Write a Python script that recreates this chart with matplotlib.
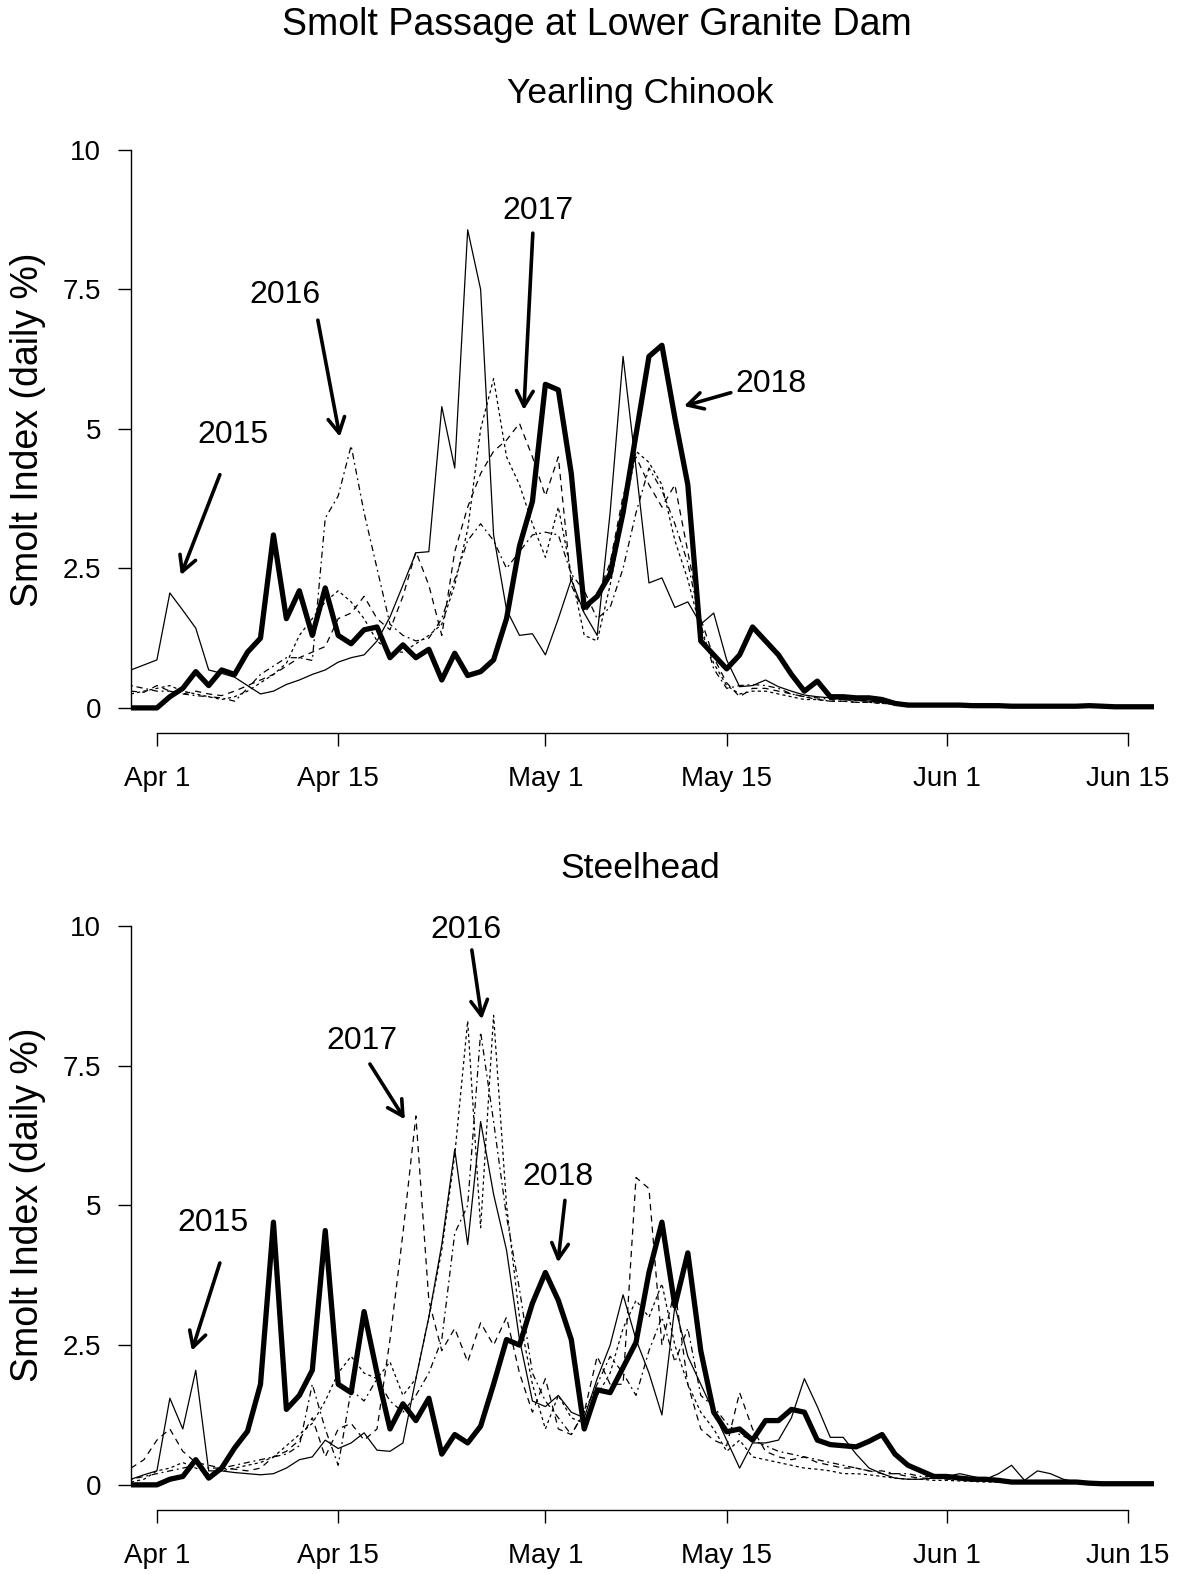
import numpy as np
import matplotlib
matplotlib.use("Agg")
import matplotlib.pyplot as plt

plt.rcParams["font.family"] = ["Liberation Sans", "DejaVu Sans"]

# day offsets from Apr 1 (Mar 30 .. Jun 16)
days = np.arange(-2, 78)
tick_days = [0, 14, 30, 44, 61, 75]
tick_labels = ["Apr 1", "Apr 15", "May 1", "May 15", "Jun 1", "Jun 15"]
y_ticks = [0, 2.5, 5, 7.5, 10]
y_labels = ["0", "2.5", "5", "7.5", "10"]

# ---- Yearling Chinook (daily %) ----
ck_2018 = [0, 0, 0, 0.2, 0.35, 0.65, 0.4, 0.68, 0.6, 1.0, 1.25, 3.1,
           1.6, 2.1, 1.3, 2.15, 1.3, 1.15, 1.4, 1.45, 0.9, 1.13,
           0.9, 1.05, 0.5, 0.98, 0.58, 0.65, 0.86, 1.6, 2.9, 3.7,
           5.8, 5.7, 4.2, 1.8, 2.0, 2.4, 3.5, 4.9, 6.3, 6.5,
           5.2, 4.0, 1.2, 0.95, 0.7, 0.95, 1.45, 1.2, 0.95, 0.6,
           0.3, 0.48, 0.2, 0.2, 0.18, 0.18, 0.15, 0.08, 0.05, 0.05,
           0.05, 0.05, 0.05, 0.04, 0.04, 0.04, 0.03, 0.03, 0.03, 0.03,
           0.03, 0.03, 0.04, 0.03, 0.02, 0.02, 0.02, 0.02]
ck_2015 = [0.68, 0.77, 0.86, 2.06, 1.75, 1.43, 0.68, 0.62, 0.55, 0.4, 0.25, 0.3,
           0.42, 0.5, 0.6, 0.68, 0.82, 0.9, 0.95, 1.2, 1.63, 2.2,
           2.78, 2.8, 5.4, 4.3, 8.57, 7.5, 3.1, 1.76, 1.3, 1.33,
           0.95, 1.6, 2.3, 1.7, 1.3, 3.5, 6.3, 4.3, 2.24, 2.33,
           1.8, 1.9, 1.5, 1.7, 0.86, 0.38, 0.4, 0.5, 0.38, 0.3,
           0.23, 0.2, 0.18, 0.15, 0.14, 0.12, 0.1, 0.1, 0.08, 0.07,
           0.06, 0.05, 0.05, 0.05, 0.04, 0.04, 0.04, 0.03, 0.03, 0.03,
           0.03, 0.03, 0.03, 0.02, 0.02, 0.02, 0.02, 0.02]
ck_2016 = [0.4, 0.35, 0.3, 0.3, 0.25, 0.22, 0.2, 0.18, 0.12, 0.35, 0.6, 0.75,
           0.9, 0.9, 0.85, 3.4, 3.8, 4.7, 3.5, 2.5, 1.5, 1.3,
           1.2, 1.25, 1.6, 2.3, 3.0, 3.3, 3.0, 2.5, 2.8, 3.1,
           3.15, 3.1, 2.4, 2.1, 1.6, 1.8, 2.5, 3.5, 4.3, 3.9,
           3.3, 2.6, 1.5, 0.7, 0.35, 0.4, 0.42, 0.4, 0.35, 0.25,
           0.2, 0.18, 0.15, 0.15, 0.13, 0.12, 0.1, 0.08, 0.07, 0.06,
           0.05, 0.05, 0.05, 0.04, 0.04, 0.04, 0.03, 0.03, 0.03, 0.03,
           0.03, 0.03, 0.03, 0.02, 0.02, 0.02, 0.02, 0.02]
ck_2017 = [0.3, 0.28, 0.4, 0.3, 0.25, 0.3, 0.25, 0.22, 0.3, 0.4, 0.5, 0.6,
           0.75, 0.9, 1.0, 1.1, 1.6, 1.7, 2.0, 1.6, 1.4, 2.0,
           2.8, 2.2, 1.3, 2.8, 3.6, 4.2, 4.6, 4.8, 5.1, 4.5,
           3.8, 4.5, 2.2, 1.7, 2.0, 2.6, 3.8, 4.5, 4.0, 3.6,
           4.0, 2.8, 1.6, 0.9, 0.45, 0.2, 0.35, 0.35, 0.3, 0.25,
           0.2, 0.15, 0.12, 0.12, 0.1, 0.1, 0.08, 0.07, 0.06, 0.05,
           0.05, 0.05, 0.04, 0.04, 0.04, 0.03, 0.03, 0.03, 0.03, 0.03,
           0.03, 0.02, 0.02, 0.02, 0.02, 0.02, 0.02, 0.02]
ck_other = [0.25, 0.3, 0.35, 0.4, 0.3, 0.25, 0.2, 0.15, 0.2, 0.3, 0.45, 0.6,
            0.8, 1.3, 1.6, 1.9, 2.1, 1.9, 1.6, 1.2, 1.0, 1.0,
            1.15, 1.3, 1.5, 2.2, 3.2, 5.0, 5.9, 4.5, 4.0, 3.3,
            2.7, 3.6, 2.4, 1.3, 1.2, 2.2, 3.4, 4.6, 4.4, 4.0,
            3.0, 2.3, 1.4, 0.8, 0.4, 0.25, 0.3, 0.3, 0.25, 0.2,
            0.15, 0.15, 0.12, 0.12, 0.1, 0.1, 0.08, 0.07, 0.06, 0.05,
            0.05, 0.04, 0.04, 0.04, 0.03, 0.03, 0.03, 0.03, 0.03, 0.03,
            0.02, 0.02, 0.02, 0.02, 0.02, 0.02, 0.02, 0.02]

# ---- Steelhead (daily %) ----
sh_2018 = [0, 0, 0, 0.1, 0.15, 0.45, 0.12, 0.3, 0.66, 0.96, 1.8, 4.7,
           1.35, 1.6, 2.05, 4.55, 1.8, 1.65, 3.1, 2.0, 1.0, 1.45,
           1.15, 1.55, 0.55, 0.9, 0.75, 1.05, 1.8, 2.6, 2.5, 3.25,
           3.8, 3.3, 2.6, 1.0, 1.7, 1.65, 2.1, 2.55, 3.8, 4.7,
           3.2, 4.15, 2.4, 1.3, 0.95, 1.0, 0.8, 1.15, 1.15, 1.35,
           1.3, 0.8, 0.72, 0.7, 0.68, 0.78, 0.9, 0.55, 0.35, 0.25,
           0.15, 0.15, 0.12, 0.1, 0.1, 0.08, 0.05, 0.05, 0.05, 0.05,
           0.05, 0.05, 0.03, 0.02, 0.02, 0.02, 0.02, 0.02]
sh_2015 = [0.1, 0.18, 0.25, 1.55, 1.0, 2.05, 0.25, 0.25, 0.22, 0.2, 0.18, 0.2,
           0.3, 0.45, 0.5, 0.8, 0.65, 0.75, 0.93, 0.62, 0.6, 0.75,
           1.9, 3.0, 4.3, 6.0, 4.3, 6.5, 5.2, 4.2, 2.6, 1.5,
           1.4, 1.6, 1.3, 1.2, 1.9, 2.5, 3.4, 2.6, 2.0, 1.25,
           3.2, 2.3, 1.8, 1.3, 0.8, 0.3, 0.75, 0.75, 0.8, 1.2,
           1.9, 1.4, 0.85, 0.85, 0.55, 0.3, 0.2, 0.12, 0.1, 0.1,
           0.12, 0.15, 0.2, 0.15, 0.1, 0.2, 0.35, 0.08, 0.25, 0.2,
           0.1, 0.05, 0.05, 0.04, 0.03, 0.03, 0.03, 0.03]
sh_2016 = [0.1, 0.15, 0.2, 0.25, 0.3, 0.35, 0.3, 0.3, 0.35, 0.4, 0.45, 0.5,
           0.55, 0.7, 1.8, 1.0, 0.35, 1.7, 1.5, 1.9, 1.5, 1.3,
           1.6, 2.0, 2.6, 4.5, 5.0, 8.1, 6.5, 4.8, 3.5, 2.0,
           1.5, 1.2, 0.9, 1.3, 1.8, 2.3, 2.0, 1.6, 2.4, 3.0,
           2.2, 2.8, 1.6, 1.4, 1.1, 0.9, 0.8, 0.7, 0.6, 0.55,
           0.5, 0.45, 0.4, 0.35, 0.3, 0.25, 0.25, 0.2, 0.2, 0.15,
           0.15, 0.12, 0.12, 0.1, 0.1, 0.08, 0.07, 0.06, 0.05, 0.05,
           0.04, 0.04, 0.03, 0.03, 0.03, 0.02, 0.02, 0.02]
sh_2017 = [0.3, 0.45, 0.8, 1.0, 0.6, 0.4, 0.35, 0.3, 0.28, 0.25, 0.3, 0.5,
           0.6, 0.8, 1.2, 0.5, 1.0, 1.1, 0.8, 1.0, 2.6, 4.5,
           6.6, 3.3, 2.4, 2.8, 2.2, 2.9, 2.5, 3.0, 2.0, 1.3,
           1.9, 1.0, 0.9, 1.3, 2.3, 1.8, 1.8, 5.5, 5.3, 2.5,
           3.5, 1.8, 1.0, 0.8, 0.7, 1.65, 1.0, 0.6, 0.5, 0.45,
           0.5, 0.4, 0.35, 0.3, 0.3, 0.25, 0.2, 0.2, 0.15, 0.12,
           0.12, 0.1, 0.1, 0.08, 0.08, 0.07, 0.06, 0.05, 0.05, 0.04,
           0.04, 0.03, 0.03, 0.03, 0.02, 0.02, 0.02, 0.02]
sh_other = [0.05, 0.1, 0.25, 0.3, 0.4, 0.3, 0.2, 0.25, 0.3, 0.35, 0.4, 0.5,
            0.7, 0.9, 1.1, 1.5, 2.0, 2.3, 2.0, 1.9, 2.2, 1.6,
            1.9, 3.0, 4.2, 5.9, 8.3, 4.6, 8.4, 5.0, 3.0, 1.8,
            1.0, 1.6, 1.2, 1.1, 1.6, 2.0, 2.8, 3.3, 3.0, 3.6,
            2.5, 1.8, 1.3, 1.0, 0.6, 0.8, 0.5, 0.45, 0.4, 0.35,
            0.3, 0.28, 0.25, 0.2, 0.2, 0.18, 0.15, 0.12, 0.1, 0.1,
            0.08, 0.08, 0.07, 0.06, 0.05, 0.05, 0.04, 0.04, 0.03, 0.03,
            0.03, 0.03, 0.02, 0.02, 0.02, 0.02, 0.02, 0.02]

# year labels: (text, label pos, arrow start, arrow tip) in data units
ck_notes = [("2015", (5.9, 4.9), (4.86, 4.18), (1.85, 2.38)),
            ("2016", (9.9, 7.41), (12.43, 6.95), (14.13, 4.86)),
            ("2017", (29.4, 8.9), (29.03, 8.51), (28.34, 5.34)),
            ("2018", (47.4, 5.8), (44.32, 5.65), (40.7, 5.41))]
sh_notes = [("2015", (4.3, 4.69), (4.86, 3.97), (2.7, 2.4)),
            ("2017", (15.8, 7.95), (16.45, 7.53), (19.15, 6.54)),
            ("2016", (23.9, 9.92), (24.32, 9.57), (25.1, 8.33)),
            ("2018", (31.0, 5.51), (31.51, 5.09), (30.97, 3.98))]

W, H = 1183, 1574
fig = plt.figure(figsize=(W / 100, H / 100), dpi=100)

def panel(rect, series, notes, title, title_y):
    ax = fig.add_axes(rect)
    thin, s16, s17, other, thick = series
    ax.plot(days, other, color="black", lw=0.9, ls=(0, (2.5, 2.5)))
    ax.plot(days, s17, color="black", lw=0.9, ls=(0, (5, 4)))
    ax.plot(days, s16, color="black", lw=0.9, ls=(0, (1.5, 3, 5, 3)))
    ax.plot(days, thin, color="black", lw=0.9, ls="-")
    ax.plot(days, thick, color="black", lw=3.8, ls="-", solid_joinstyle="round",
            solid_capstyle="round")
    ax.set_xlim(-2, 77)
    ax.set_ylim(-0.45, 10.4)
    for s in ["top", "right"]:
        ax.spines[s].set_visible(False)
    ax.spines["left"].set_bounds(0, 10)
    ax.spines["bottom"].set_bounds(0, 75)
    for s in ["left", "bottom"]:
        ax.spines[s].set_linewidth(1.0)
    ax.set_xticks(tick_days)
    ax.set_xticklabels(tick_labels)
    ax.set_yticks(y_ticks)
    ax.set_yticklabels(y_labels)
    ax.tick_params(axis="x", length=9.5, width=1.0, pad=14, labelsize=20)
    ax.tick_params(axis="y", length=9.5, width=1.0, pad=12, labelsize=20)
    ax.patch.set_alpha(0)
    for txt, lab, start, tip in notes:
        ax.text(lab[0], lab[1], txt, fontsize=23, ha="center", va="center")
        ax.annotate("", xy=tip, xytext=start,
                    arrowprops=dict(arrowstyle="->,head_length=0.55,head_width=0.3",
                                    lw=2.6, color="black", shrinkA=0, shrinkB=0,
                                    mutation_scale=20))
    fig.text(640 / W, 1 - title_y / H, title, fontsize=25.5, ha="center", va="center")
    return ax

top_rect = [131 / W, 1 - 733 / H, 1023 / W, 605.3 / H]
bot_rect = [131 / W, 1 - 1510 / H, 1023 / W, 606.4 / H]

panel(top_rect, [ck_2015, ck_2016, ck_2017, ck_other, ck_2018], ck_notes,
      "Yearling Chinook", 93)
panel(bot_rect, [sh_2015, sh_2016, sh_2017, sh_other, sh_2018], sh_notes,
      "Steelhead", 869)

fig.text(597 / W, 1 - 25 / H, "Smolt Passage at Lower Granite Dam",
         fontsize=27, ha="center", va="center")
fig.text(28 / W, 1 - 430 / H, "Smolt Index (daily %)", fontsize=27,
         rotation=90, ha="center", va="center")
fig.text(28 / W, 1 - 1205 / H, "Smolt Index (daily %)", fontsize=27,
         rotation=90, ha="center", va="center")

fig.savefig("out.png", dpi=100)
